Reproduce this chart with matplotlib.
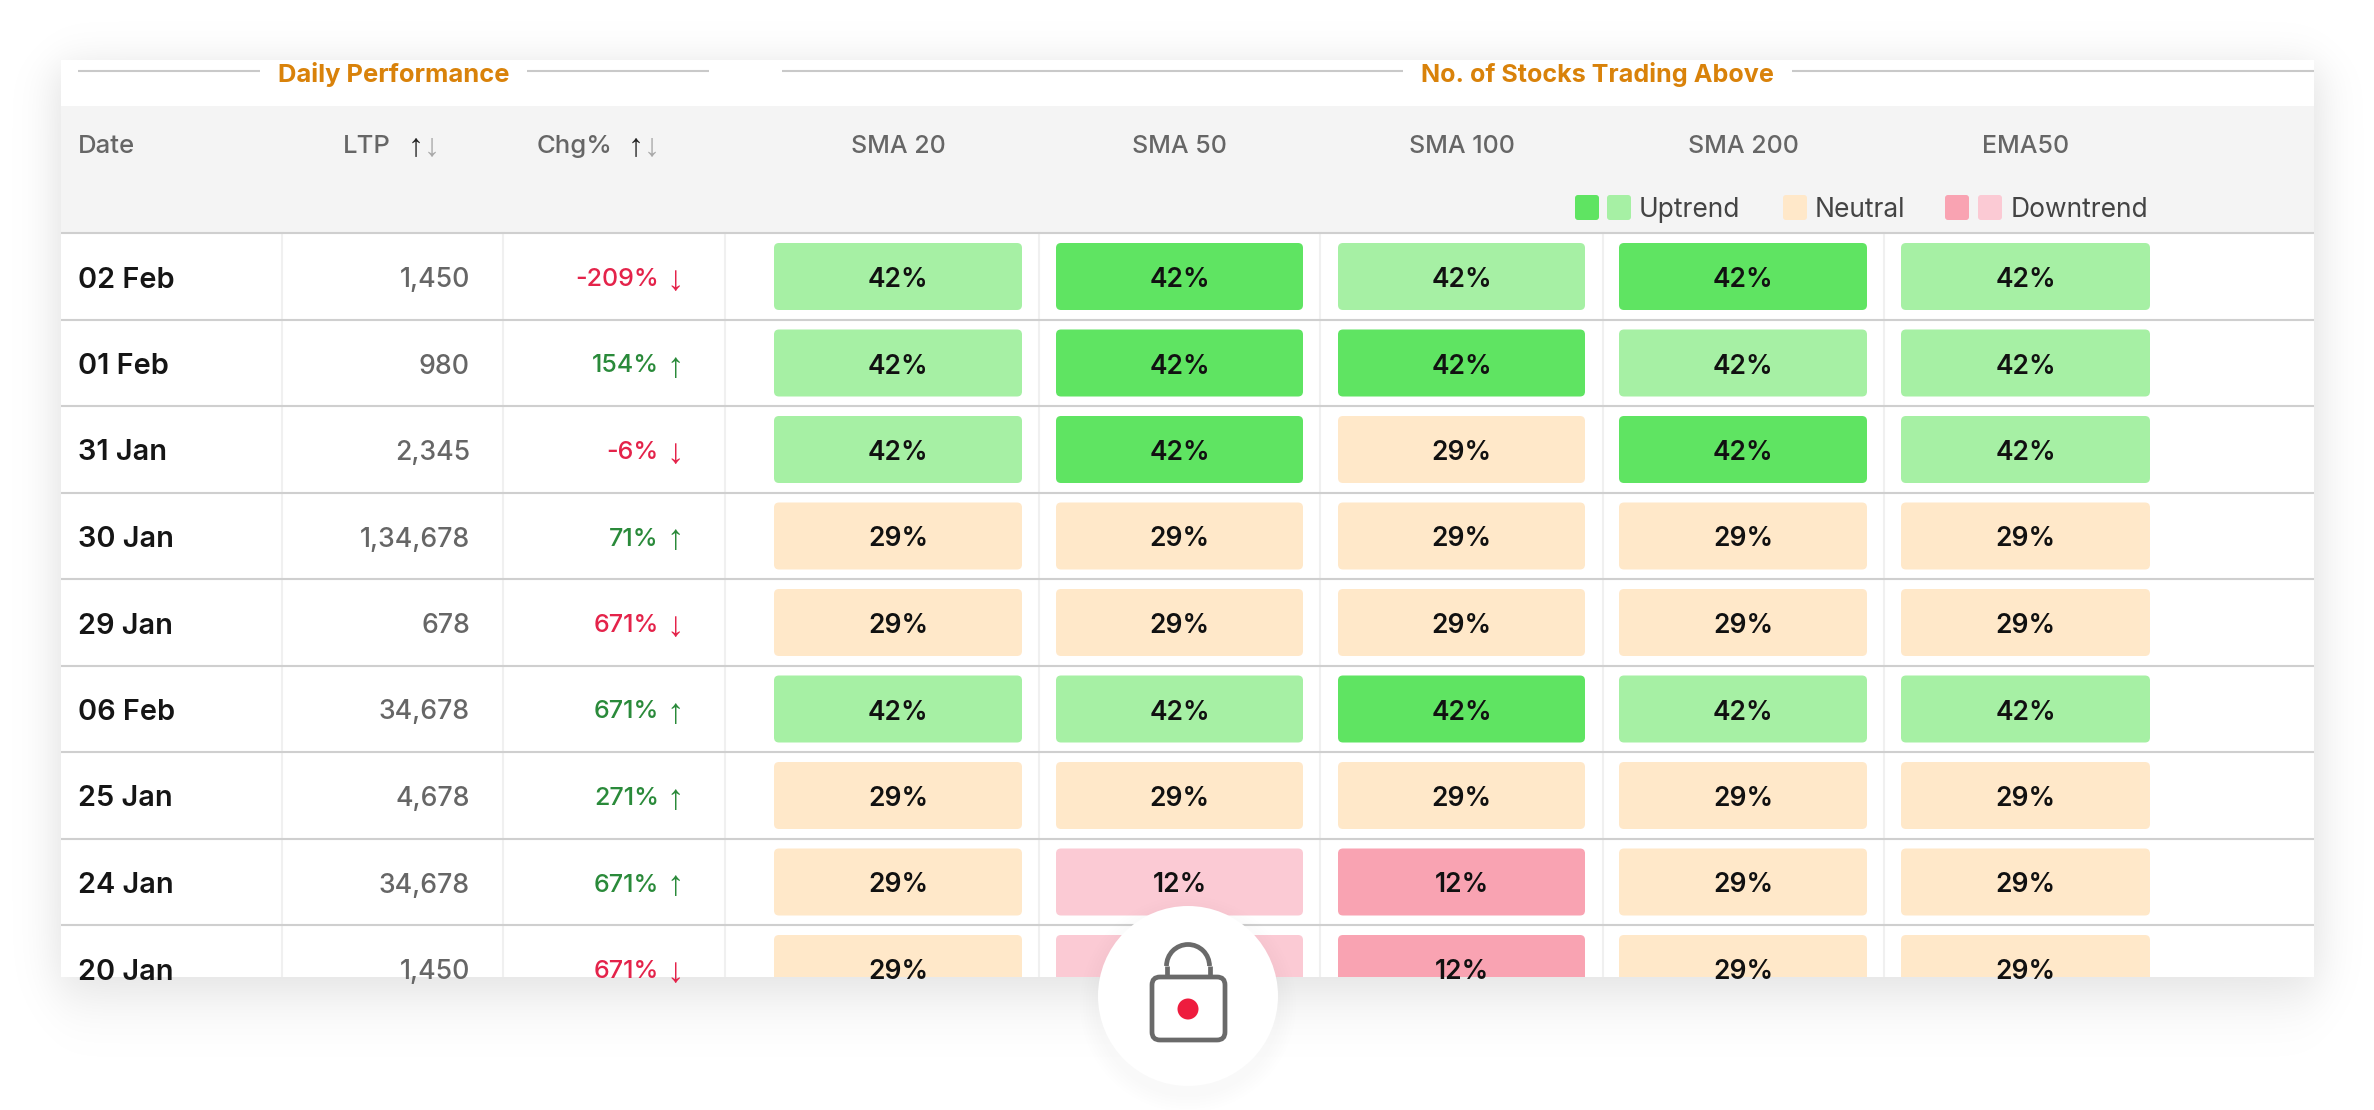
import numpy as np
import matplotlib
matplotlib.use("Agg")
import matplotlib.pyplot as plt
from matplotlib.patches import Rectangle, FancyBboxPatch, Circle, Arc

W, H = 2374, 1110
FONT = ["Inter", "DejaVu Sans"]
ARROW_FONT = ["Liberation Sans", "DejaVu Sans"]

dates = ["02 Feb", "01 Feb", "31 Jan", "30 Jan", "29 Jan", "06 Feb", "25 Jan", "24 Jan", "20 Jan"]
ltp = ["1,450", "980", "2,345", "1,34,678", "678", "34,678", "4,678", "34,678", "1,450"]
chg = ["-209%", "154%", "-6%", "71%", "671%", "671%", "271%", "671%", "671%"]
chg_up = [False, True, False, True, False, True, True, True, False]
sma_names = ["SMA 20", "SMA 50", "SMA 100", "SMA 200", "EMA50"]

sma20 = [42, 42, 42, 29, 29, 42, 29, 29, 29]
sma50 = [42, 42, 42, 29, 29, 42, 29, 12, 12]
sma100 = [42, 42, 29, 29, 29, 42, 29, 12, 12]
sma200 = [42, 42, 42, 29, 29, 42, 29, 29, 29]
ema50 = [42, 42, 42, 29, 29, 42, 29, 29, 29]

shade20 = ["up2", "up2", "up2", "flat", "flat", "up2", "flat", "flat", "flat"]
shade50 = ["up1", "up1", "up1", "flat", "flat", "up2", "flat", "down2", "down2"]
shade100 = ["up2", "up1", "flat", "flat", "flat", "up1", "flat", "down1", "down1"]
shade200 = ["up1", "up2", "up1", "flat", "flat", "up2", "flat", "flat", "flat"]
shadeE50 = ["up2", "up2", "up2", "flat", "flat", "up2", "flat", "flat", "flat"]

COLORS = {"up1": "#5fe462", "up2": "#a6f0a4", "flat": "#ffe8c9",
          "down1": "#f9a3b2", "down2": "#fbcad4"}
ORANGE = "#d9820a"
RED = "#e4234a"
GREEN = "#2a8a3a"
GREY = "#666666"

# card and table layout, in pixels of the output
CARD = (61, 60, 2314, 977)
HEAD_TOP, LINE0, ROW_H = 106, 233, 86.5
CELL_X = [(774, 1022), (1056, 1303), (1338, 1585), (1619, 1867), (1901, 2150)]
SEPS = [282, 503, 725, 1039, 1320, 1603, 1884]


def soft(d, s):
    return 0.5 * (1 + np.tanh(d / s))


fig = plt.figure(figsize=(W / 100, H / 100), dpi=100, facecolor="white")
ax = fig.add_axes([0, 0, 1, 1])
ax.set_xlim(0, W)
ax.set_ylim(H, 0)
ax.axis("off")

# card shadow
yy, xx = np.mgrid[0:H, 0:W]
sx = soft(xx - CARD[0] + 4, 26) * soft(CARD[2] + 4 - xx, 26)
sy = soft(yy - (CARD[1] + 6), 26) * soft(CARD[3] + 14 - yy, 38)
rgba = np.zeros((H, W, 4))
rgba[..., 3] = 0.13 * sx * sy
ax.imshow(rgba, extent=(0, W, H, 0), aspect="auto", zorder=0, interpolation="bilinear")
ax.set_xlim(0, W)
ax.set_ylim(H, 0)

card = Rectangle((CARD[0], CARD[1]), CARD[2] - CARD[0], CARD[3] - CARD[1], fc="white", ec="none", zorder=1)
ax.add_patch(card)
ax.add_patch(Rectangle((CARD[0], HEAD_TOP), CARD[2] - CARD[0], LINE0 - HEAD_TOP, fc="#f4f4f4", ec="none", zorder=1.1))


def put(x, y, s, size, color, ha="center", weight="normal", clip=False, z=5, family=FONT):
    t = ax.text(x, y, s, fontsize=size, color=color, ha=ha, va="center_baseline",
                family=family, fontweight=weight, zorder=z)
    if clip:
        t.set_clip_path(card)
    return t


# group titles
for x0, x1 in [(78, 260), (527, 709), (782, 1403), (1792, 2314)]:
    ax.plot([x0, x1], [71, 71], color="#c9c9c9", lw=1.5, zorder=2, solid_capstyle="butt")
put(394, 72, "Daily Performance", 18.4, ORANGE, weight="bold")
put(1597, 72, "No. of Stocks Trading Above", 18.1, ORANGE, weight="bold")

# header row
put(78, 144, "Date", 18.5, GREY, ha="left", weight="medium")
put(343, 144, "LTP", 18.5, GREY, ha="left", weight="medium")
put(537, 144, "Chg%", 18.5, GREY, ha="left", weight="medium")
for x in (416, 636):
    put(x, 144, "↑", 23, "#222222", family=ARROW_FONT)
    put(x + 16, 144, "↓", 23, "#a8a8a8", family=ARROW_FONT)
for (x0, x1), name in zip(CELL_X, sma_names):
    put((x0 + x1) / 2, 144, name, 18, GREY, weight="medium")

# legend
for x, c in [(1575, "up1"), (1607, "up2"), (1783, "flat"), (1945, "down1"), (1978, "down2")]:
    ax.add_patch(FancyBboxPatch((x, 195), 24, 25, boxstyle="round,pad=0,rounding_size=3",
                                fc=COLORS[c], ec="none", zorder=3))
put(1639, 207, "Uptrend", 19, "#444444", ha="left")
put(1815, 207, "Neutral", 19, "#444444", ha="left")
put(2011, 207, "Downtrend", 19, "#444444", ha="left")

# grid lines
for x in SEPS:
    ln, = ax.plot([x, x], [LINE0, CARD[3]], color="#f0f0f0", lw=1.5, zorder=1.5)
    ln.set_clip_path(card)
for i in range(len(dates)):
    ax.plot([CARD[0], CARD[2]], [LINE0 + i * ROW_H] * 2, color="#cfcfcf", lw=1.5, zorder=1.6,
            solid_capstyle="butt")

# rows
values = [sma20, sma50, sma100, sma200, ema50]
shades = [shade20, shade50, shade100, shade200, shadeE50]
for i, d in enumerate(dates):
    top = LINE0 + i * ROW_H
    yc = top + 44
    put(78, yc, d, 20.8, "#151515", ha="left", weight="semibold", clip=True)
    put(470, yc, ltp[i], 19.2, GREY, ha="right", weight="medium", clip=True)
    col = GREEN if chg_up[i] else RED
    put(659, yc, chg[i], 18, col, ha="right", weight="medium", clip=True)
    put(675, yc, "↑" if chg_up[i] else "↓", 25, col, clip=True, family=ARROW_FONT)
    for (x0, x1), vals, shs in zip(CELL_X, values, shades):
        box = FancyBboxPatch((x0, top + 10), x1 - x0, 67, boxstyle="round,pad=0,rounding_size=5",
                             fc=COLORS[shs[i]], ec="none", zorder=3)
        ax.add_patch(box)
        box.set_clip_path(card)
        put((x0 + x1) / 2, yc, f"{vals[i]}%", 19, "#111111", weight="semibold", clip=True)

# lock badge
for r, a in zip(range(108, 90, -3), [0.004, 0.005, 0.006, 0.007, 0.008, 0.009]):
    ax.add_patch(Circle((1188, 1004), r, fc="#b08a8a", ec="none", alpha=a, zorder=6))
ax.add_patch(Circle((1188, 996), 90, fc="white", ec="none", zorder=7))
LOCK = "#6a6a6a"
ax.add_patch(FancyBboxPatch((1152, 977), 73, 63, boxstyle="round,pad=0,rounding_size=8",
                            fc="none", ec=LOCK, lw=3.4, zorder=8))
ax.add_patch(Arc((1188, 966), 43, 43, theta1=180, theta2=360, ec=LOCK, lw=3.4, zorder=8))
ax.plot([1166.5, 1166.5], [966, 977], color=LOCK, lw=3.4, zorder=8, solid_capstyle="butt")
ax.plot([1209.5, 1209.5], [966, 977], color=LOCK, lw=3.4, zorder=8, solid_capstyle="butt")
ax.add_patch(Circle((1188, 1009), 10.5, fc="#ee1c3e", ec="none", zorder=8))

fig.savefig("out.png", dpi=100, facecolor="white")
